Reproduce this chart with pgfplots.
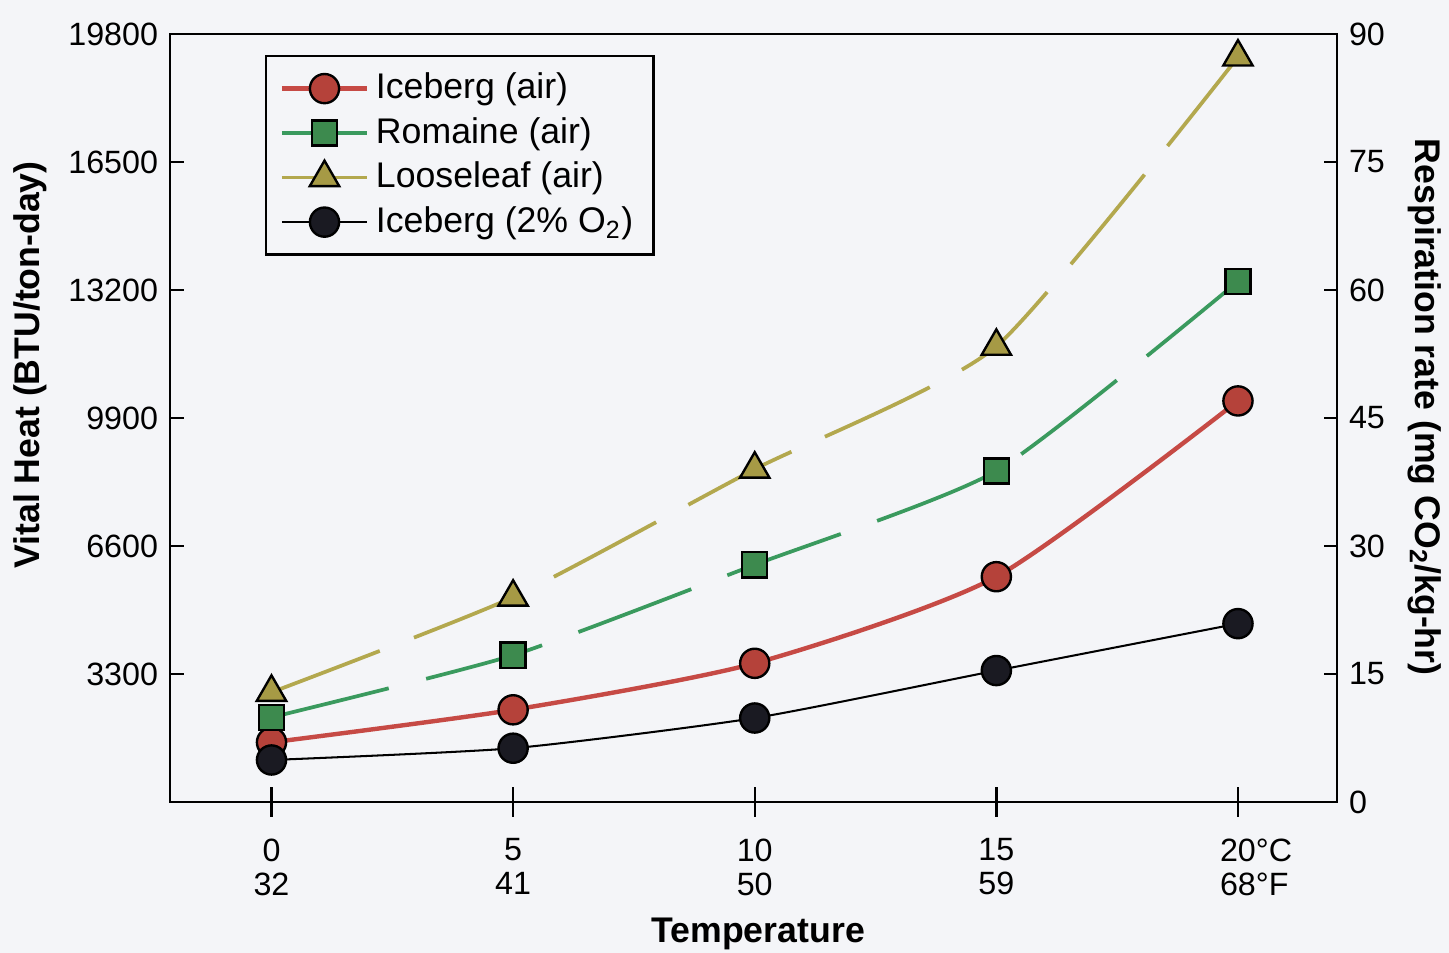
\documentclass[border=0pt]{standalone}
\usepackage{fontspec}
\setmainfont{Liberation Sans}
\usepackage{pgfplots}
\pgfplotsset{compat=1.18}
\usetikzlibrary{backgrounds}
\definecolor{bg}{HTML}{F4F5F8}
\definecolor{iceline}{HTML}{C64A45}
\definecolor{icefill}{HTML}{B5423A}
\definecolor{romline}{HTML}{3A9A5E}
\definecolor{romfill}{HTML}{3D8A4E}
\definecolor{looline}{HTML}{B3A84E}
\definecolor{loofill}{HTML}{A69A45}
\definecolor{oxfill}{HTML}{1A1A22}

\begin{document}
\begin{tikzpicture}
\pgfplotsset{
  every axis/.append style={
    at={(0,0)}, anchor=south west,
    scale only axis, width=12.081cm, height=7.95cm,
    xmin=-2.1, xmax=22.05,
    axis line style={line width=0.7pt},
    every tick/.style={black, line width=0.7pt},
    tick label style={font=\fontsize{9.5}{10}\selectfont},
    /pgf/number format/assume math mode=true,
    /pgf/number format/1000 sep={},
    scaled y ticks=false,
  },
}
% box, x axis and the data (respiration rate)
\begin{axis}[
  ymin=0, ymax=90,
  ytick=\empty,
  xtick={0,5,10,15,20},
  xticklabels={0\\32, 5\\41, 10\\50, 15\\59, 20\rlap{°C}\\68\rlap{°F}},
  xticklabel style={align=center, yshift=-0.1cm},
  xtick pos=bottom,
  tick align=center,
  major tick length=0.31cm,
  xlabel={\bfseries Temperature},
  xlabel style={font=\fontsize{10.5}{12}\selectfont, at={(axis description cs:0.504,-0.172)}, anchor=center},
  legend style={at={(0.0814,0.9727)}, anchor=north west, draw=black, line width=0.7pt,
    fill=bg, font=\fontsize{10.5}{12.6}\selectfont, inner xsep=4pt, inner ysep=3pt},
  legend cell align=left,
  legend image code/.code={\draw[mark repeat=2,mark phase=2] plot coordinates {(0cm,0cm) (0.44cm,0cm) (0.88cm,0cm)};},
]
\addplot[iceline, line width=1.3pt, smooth, tension=0.4, mark=*, mark size=4.3pt,
  mark options={fill=icefill, draw=black, line width=0.7pt, solid}]
  coordinates {(0,6.99) (5,10.8) (10,16.25) (15,26.4) (20,47.0)};
\addlegendentry{Iceberg (air)}
\addplot[romline, line width=1.1pt, smooth, tension=0.35, dash pattern=on 1.25cm off 0.4cm,
  mark=square*, mark size=3.7pt,
  mark options={fill=romfill, draw=black, line width=0.7pt, solid},
  legend image post style={solid}]
  coordinates {(0,9.92) (5,17.2) (10,27.8) (15,38.8) (20,61.0)};
\addlegendentry{Romaine (air)}
\addplot[looline, line width=1.1pt, smooth, tension=0.35, dash pattern=on 1.2cm off 0.38cm,
  mark=triangle*, mark size=5pt,
  mark options={fill=loofill, draw=black, line width=0.7pt, solid},
  legend image post style={solid}]
  coordinates {(0,12.85) (5,24.0) (10,39.0) (15,53.4) (20,87.3)};
\addlegendentry{Looseleaf (air)}
\addplot[black, line width=0.6pt, smooth, tension=0.35, mark=*, mark size=4.3pt,
  mark options={fill=oxfill, draw=black, line width=0.7pt, solid}]
  coordinates {(0,4.92) (5,6.3) (10,9.84) (15,15.4) (20,20.9)};
\addlegendentry{Iceberg (2\% O\textsubscript{2})}
\end{axis}
% left axis: vital heat
\begin{axis}[
  axis y line*=left, axis x line=none,
  ymin=0, ymax=19800,
  ytick={3300,6600,9900,13200,16500,19800},
  tick align=inside, major tick length=0.14cm,
  ylabel={\bfseries Vital Heat (BTU/ton-day)},
  ylabel style={font=\fontsize{10.5}{12}\selectfont, at={(axis description cs:-0.12,0.569)}, anchor=center},
]
\end{axis}
% right axis: respiration rate
\begin{axis}[
  axis y line*=right, axis x line=none,
  ymin=0, ymax=90,
  ytick={0,15,30,45,60,75,90},
  tick align=inside, major tick length=0.14cm,
  ylabel={\bfseries Respiration rate (mg CO\textsubscript{2}/kg-hr)},
  ylabel style={font=\fontsize{10.5}{12}\selectfont, rotate=180, at={(axis description cs:1.075,0.514)}, anchor=center},
]
\end{axis}
\pgfresetboundingbox
\path[use as bounding box] (-1.760,-1.563) rectangle (13.240,8.302);
\begin{scope}[on background layer]
\fill[bg] (-1.760,-1.563) rectangle (13.240,8.302);
\end{scope}
\end{tikzpicture}
\end{document}
